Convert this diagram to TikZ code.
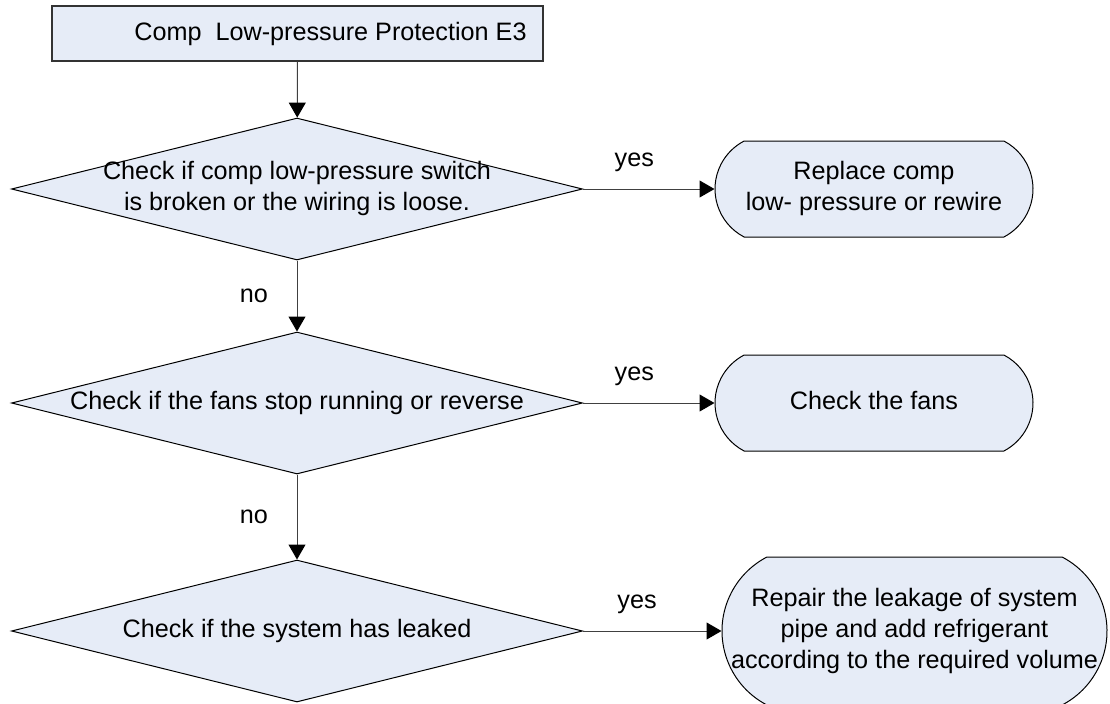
\documentclass[tikz,border=0pt]{standalone}
\usepackage{fontspec}
\setmainfont{Liberation Sans}
\usetikzlibrary{arrows.meta, shapes.geometric, shapes.misc}
\definecolor{boxfill}{RGB}{230,236,247}
\newcommand{\ctext}[1]{\makebox[0pt]{\begin{tabular}{@{}c@{}}#1\end{tabular}}}

\begin{document}
\begin{tikzpicture}[x=0.5pt, y=-0.5pt,
    font=\fontsize{12.6}{15.5}\selectfont,
    startbox/.style={draw=black!80, line width=0.7pt, fill=boxfill,
      minimum width=245.5pt, minimum height=27.5pt, inner sep=0pt},
    decision/.style={diamond, draw, line width=0.5pt, fill=boxfill,
      minimum width=285.5pt, minimum height=71pt, inner sep=0pt},
    action/.style={rounded rectangle, rounded rectangle arc length=125,
      draw, line width=0.5pt, fill=boxfill,
      minimum width=159pt, minimum height=48pt, inner sep=0pt},
    flow/.style={draw=black!75, line width=0.5pt,
      -{Triangle[length=7.5pt, width=8.5pt, color=black]}}]
    \useasboundingbox (0,0) rectangle (1110,703);

    % Start box
    \node[startbox] (start) at (297.5,33.5) {\hspace*{33pt}Comp\ \ Low-pressure Protection E3};

    % Checks
    \node[decision] (chk1) at (297,189) {\ctext{Check if comp low-pressure switch\\is broken or the wiring is loose.}};
    \node[decision] (chk2) at (297,403) {\ctext{Check if the fans stop running or reverse}};
    \node[decision] (chk3) at (297,631) {\ctext{Check if the system has leaked}};

    % Actions
    \node[action] (fix1) at (874,189) {\ctext{Replace comp\\low- pressure or rewire}};
    \node[action] (fix2) at (874,403) {\ctext{Check the fans}};
    \node[action, minimum width=192.5pt, minimum height=74pt] (fix3) at (914.5,631)
      {\ctext{Repair the leakage of system\\pipe and add refrigerant\\according to the required volume}};

    % Connectors
    \draw[flow] (start) -- (chk1);
    \draw[flow] (chk1) -- node[pos=0.39, above=5pt] {yes} (fix1);
    \draw[flow] (chk1) -- node[midway, left=11pt] {no} (chk2);
    \draw[flow] (chk2) -- node[pos=0.39, above=5pt] {yes} (fix2);
    \draw[flow] (chk2) -- node[midway, left=11pt] {no} (chk3);
    \draw[flow] (chk3) -- node[pos=0.39, above=5pt] {yes} (fix3);
\end{tikzpicture}
\end{document}
